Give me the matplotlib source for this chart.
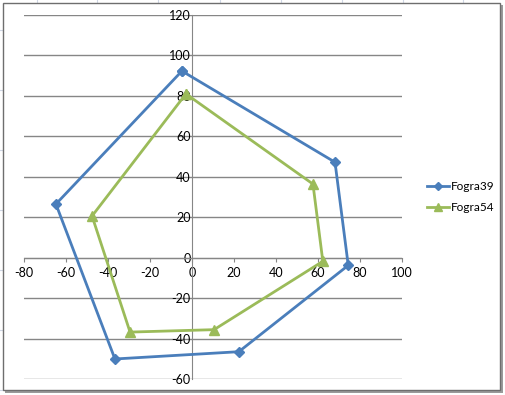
import matplotlib
matplotlib.use("Agg")
import matplotlib.pyplot as plt
from matplotlib.patches import Rectangle
from matplotlib.lines import Line2D

fogra39_x = [-4.8, 68.1, 74.4, 22.3, -36.7, -64.8, -4.8]
fogra39_y = [92.3, 47.2, -3.8, -46.5, -50.1, 26.5, 92.3]
fogra54_x = [-2.9, 57.6, 62.3, 10.5, -29.5, -47.6, -2.9]
fogra54_y = [81.0, 36.4, -1.8, -35.6, -36.8, 20.6, 81.0]
series_names = ["Fogra39", "Fogra54"]
x_ticks = [-80, -60, -40, -20, 0, 20, 40, 60, 80, 100]
y_ticks = [-60, -40, -20, 0, 20, 40, 60, 80, 100, 120]

plt.rcParams['font.family'] = ['Lato', 'DejaVu Sans']

W, H = 505, 395
fig = plt.figure(figsize=(W / 100, H / 100), dpi=100)
fig.patch.set_facecolor('white')

# worksheet cell lines behind the chart
for xc in [37, 97, 158, 220, 281, 342, 403, 463]:
    fig.add_artist(Line2D([xc / W, xc / W], [1 - 3 / H, 1], color='#d0d7e5', lw=0.8, zorder=-3))
for yc in [30, 90, 150, 210, 270, 330, 390]:
    fig.add_artist(Line2D([0, 3 / W], [1 - yc / H, 1 - yc / H], color='#d0d7e5', lw=0.8, zorder=-3))

# chart border with shadow
fig.add_artist(Rectangle((5 / W, 1 - 393 / H), 498 / W, 388 / H, transform=fig.transFigure,
                         facecolor='#9a9a9a', edgecolor='none', zorder=-2))
fig.add_artist(Rectangle((3 / W, 1 - 390 / H), 497 / W, 387 / H, transform=fig.transFigure,
                         facecolor='white', edgecolor='#6e6e6e', lw=1.0, zorder=-1))

ax = fig.add_axes([24 / W, 1 - 379 / H, 378 / W, 364 / H])
ax.set_zorder(1)
ax.set_facecolor('none')
ax.set_xlim(-80, 100)
ax.set_ylim(-60, 120)
ax.set_xticks(x_ticks)
ax.set_yticks(y_ticks)
ax.set_xticklabels([str(v) for v in x_ticks])
ax.set_yticklabels([str(v) for v in y_ticks])

ax.yaxis.grid(True, color='#868686', lw=1.0)
ax.set_axisbelow(True)

for s in ['top', 'right']:
    ax.spines[s].set_visible(False)
ax.spines['left'].set_position(('data', 0))
ax.spines['bottom'].set_position(('data', 0))
ax.spines['left'].set_color('#868686')
ax.spines['bottom'].set_color('#868686')
ax.tick_params(axis='both', color='#868686', labelsize=9, labelcolor='black')
ax.tick_params(axis='x', direction='out', length=3, pad=4)
ax.tick_params(axis='y', length=0, pad=1)

ax.plot(fogra39_x, fogra39_y, color='#4A7EBB', lw=2, marker='D', markersize=5,
        label=series_names[0], zorder=3, clip_on=False)
ax.plot(fogra54_x, fogra54_y, color='#9BBB59', lw=2, marker='^', markersize=6.5,
        label=series_names[1], zorder=3, clip_on=False)

leg = ax.legend(loc='center left', bbox_to_anchor=(427 / W, 1 - 197 / H),
                bbox_transform=fig.transFigure, frameon=False, fontsize=8.5,
                handlelength=1.9, handletextpad=0.1, labelspacing=0.9, borderaxespad=0,
                borderpad=0, markerscale=0.85)

fig.savefig('out.png', dpi=100)
